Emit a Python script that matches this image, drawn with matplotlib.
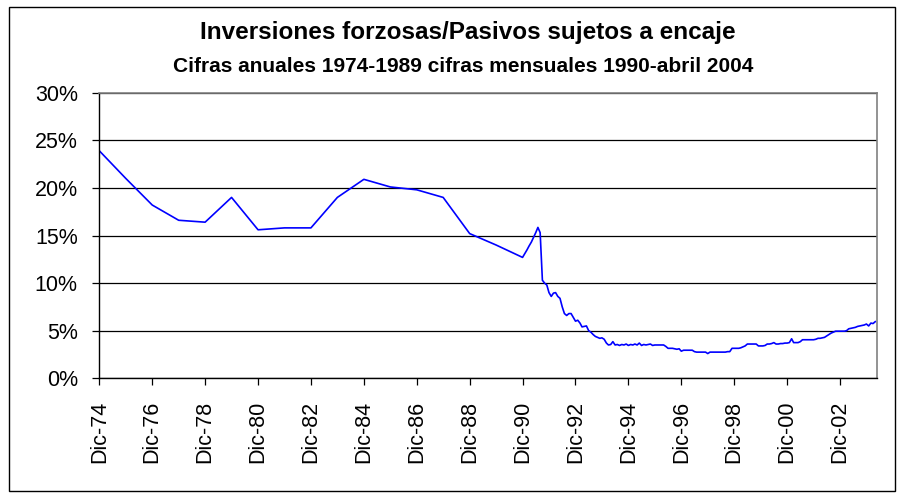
import pandas as pd
import matplotlib
matplotlib.use("Agg")
import matplotlib.pyplot as plt
from matplotlib.patches import Rectangle
from matplotlib.ticker import FuncFormatter

plt.rcParams['font.family'] = ['Liberation Sans', 'DejaVu Sans']

# --- Data (% of liabilities) ---
# annual figures, December of each year 1974-1989
annual_years = list(range(1974, 1990))
annual_values = [23.9, 21.0, 18.2, 16.6, 16.4, 19.0, 15.6, 15.8,
                 15.8, 19.0, 20.9, 20.1, 19.8, 19.0, 15.2, 14.0]

# monthly figures, Dec-1990 to Apr-2004
monthly_start = "1990-12-01"
monthly_values = [
    12.7, 13.1, 13.5, 13.9, 14.3, 14.8, 15.3, 15.85, 15.3, 10.3, 10.0, 9.8,      # Dic-90 .. Nov-91
    9.0, 8.6, 8.95, 9.0, 8.6, 8.4, 7.5, 6.8, 6.6, 6.8, 6.8, 6.4,                # Dic-91 .. Nov-92
    6.0, 6.1, 5.8, 5.4, 5.45, 5.5, 5.0, 4.85, 4.6, 4.4, 4.3, 4.2,               # Dic-92 .. Nov-93
    4.25, 4.1, 3.7, 3.5, 3.55, 3.85, 3.5, 3.55, 3.45, 3.55, 3.5, 3.6,           # Dic-93 .. Nov-94
    3.45, 3.55, 3.5, 3.6, 3.5, 3.7, 3.45, 3.55, 3.5, 3.55, 3.6, 3.45,           # Dic-94 .. Nov-95
    3.5, 3.5, 3.5, 3.5, 3.5, 3.35, 3.15, 3.15, 3.15, 3.1, 3.05, 3.1,            # Dic-95 .. Nov-96
    2.85, 2.95, 2.95, 2.95, 2.95, 2.95, 2.8, 2.75, 2.75, 2.75, 2.75, 2.75,      # Dic-96 .. Nov-97
    2.6, 2.75, 2.75, 2.75, 2.75, 2.75, 2.75, 2.75, 2.75, 2.8, 2.8, 3.15,        # Dic-97 .. Nov-98
    3.15, 3.15, 3.15, 3.2, 3.3, 3.4, 3.6, 3.6, 3.6, 3.6, 3.6, 3.4,              # Dic-98 .. Nov-99
    3.4, 3.4, 3.45, 3.6, 3.6, 3.65, 3.75, 3.6, 3.6, 3.65, 3.65, 3.7,            # Dic-99 .. Nov-00
    3.7, 3.75, 4.15, 3.75, 3.75, 3.75, 3.85, 4.05, 4.05, 4.05, 4.05, 4.05,      # Dic-00 .. Nov-01
    4.05, 4.1, 4.2, 4.2, 4.25, 4.3, 4.45, 4.6, 4.75, 4.85, 4.95, 4.95,          # Dic-01 .. Nov-02
    4.95, 4.95, 4.95, 5.0, 5.2, 5.25, 5.3, 5.35, 5.45, 5.5, 5.55, 5.6,          # Dic-02 .. Nov-03
    5.7, 5.5, 5.8, 5.75, 5.95,                                                  # Dic-03 .. Abr-04
]

tick_years = list(range(1974, 2003, 2))
tick_labels = ["Dic-%02d" % (y % 100) for y in tick_years]

title = "Inversiones forzosas/Pasivos sujetos a encaje"
subtitle = "Cifras anuales 1974-1989 cifras mensuales 1990-abril 2004"

# --- Build the series ---
annual = pd.Series(annual_values,
                   index=pd.to_datetime(["%d-12-01" % y for y in annual_years]))
monthly = pd.Series(monthly_values,
                    index=pd.date_range(monthly_start, periods=len(monthly_values), freq="MS"))
serie = pd.concat([annual, monthly])

# --- Figure ---
fig = plt.figure(figsize=(9.04, 4.98), dpi=100)
ax = fig.add_axes([99.3 / 904, 1 - 378.3 / 498, (877 - 99.3) / 904, (378.3 - 92.7) / 498])

ax.plot(serie.index, serie.values, color="#0000FF", lw=1.2)

ax.set_ylim(0, 30)
ax.set_yticks(range(0, 31, 5))
ax.yaxis.set_major_formatter(FuncFormatter(lambda v, p: "%d%%" % v))
ax.grid(axis="y", color="black", lw=0.9)
ax.set_axisbelow(True)

ax.set_xlim(pd.Timestamp("1974-12-01"), pd.Timestamp("2004-04-25"))
ax.set_xticks(pd.to_datetime(["%d-12-01" % y for y in tick_years]))
ax.set_xticklabels(tick_labels, rotation=90)

ax.tick_params(axis="both", direction="out", length=5, width=0.9, color="black", labelsize=15.5)
ax.tick_params(axis="y", pad=10.5)
ax.tick_params(axis="x", pad=11)

for side in ["left", "bottom"]:
    ax.spines[side].set_color("black")
    ax.spines[side].set_linewidth(1.0)
for side in ["top", "right"]:
    ax.spines[side].set_color("#808080")
    ax.spines[side].set_linewidth(1.2)

fig.text(468 / 904, 1 - 33 / 498, title, ha="center", va="center",
         fontsize=17.5, fontweight="bold")
fig.text(463 / 904, 1 - 66 / 498, subtitle, ha="center", va="center",
         fontsize=15, fontweight="bold")

# outer chart frame
fig.patches.append(Rectangle((9 / 904, 1 - 491 / 498), 886 / 904, 484 / 498,
                             transform=fig.transFigure, fill=False,
                             edgecolor="black", lw=1.0))

fig.savefig("out.png", dpi=100)
